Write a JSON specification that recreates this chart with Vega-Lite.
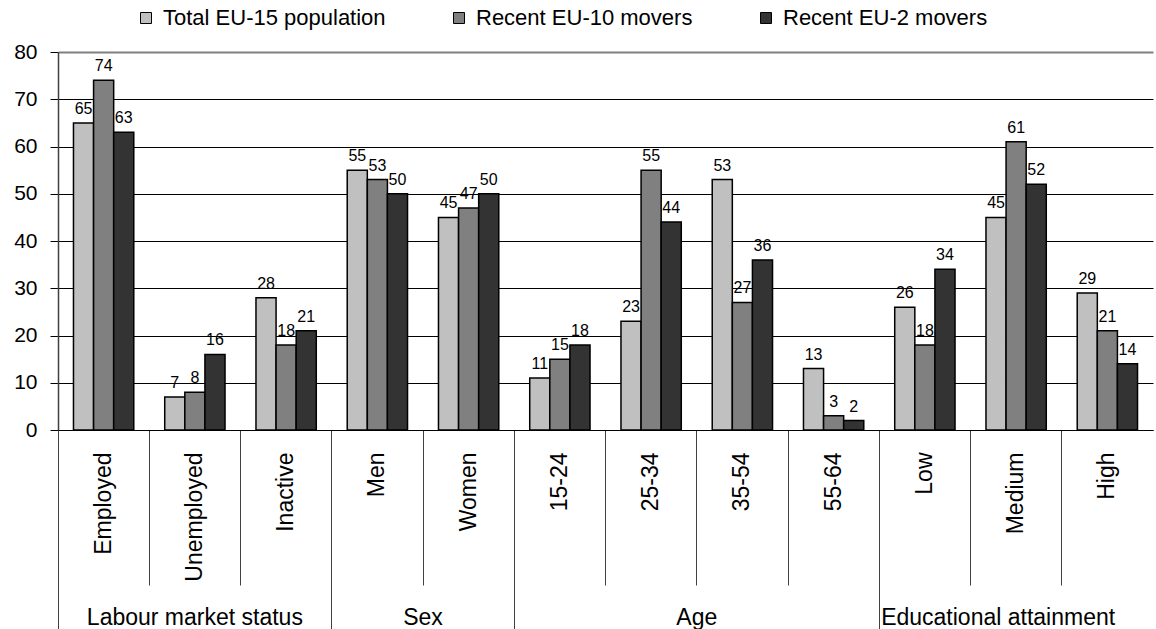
{
  "$schema": "https://vega.github.io/schema/vega-lite/v6.json",
  "autosize": "none",
  "width": 1095,
  "height": 378,
  "padding": {"left": 58, "top": 52, "right": 3, "bottom": 199},
  "background": "white",
  "config": {"font": "Liberation Sans", "view": {"stroke": null}},
  "data": {
    "values": [
      {"group": "Labour market status", "cat": "Employed", "series": "Total EU-15 population", "value": 65},
      {"group": "Labour market status", "cat": "Employed", "series": "Recent EU-10 movers", "value": 74},
      {"group": "Labour market status", "cat": "Employed", "series": "Recent EU-2 movers", "value": 63},
      {"group": "Labour market status", "cat": "Unemployed", "series": "Total EU-15 population", "value": 7},
      {"group": "Labour market status", "cat": "Unemployed", "series": "Recent EU-10 movers", "value": 8},
      {"group": "Labour market status", "cat": "Unemployed", "series": "Recent EU-2 movers", "value": 16},
      {"group": "Labour market status", "cat": "Inactive", "series": "Total EU-15 population", "value": 28},
      {"group": "Labour market status", "cat": "Inactive", "series": "Recent EU-10 movers", "value": 18},
      {"group": "Labour market status", "cat": "Inactive", "series": "Recent EU-2 movers", "value": 21},
      {"group": "Sex", "cat": "Men", "series": "Total EU-15 population", "value": 55},
      {"group": "Sex", "cat": "Men", "series": "Recent EU-10 movers", "value": 53},
      {"group": "Sex", "cat": "Men", "series": "Recent EU-2 movers", "value": 50},
      {"group": "Sex", "cat": "Women", "series": "Total EU-15 population", "value": 45},
      {"group": "Sex", "cat": "Women", "series": "Recent EU-10 movers", "value": 47},
      {"group": "Sex", "cat": "Women", "series": "Recent EU-2 movers", "value": 50},
      {"group": "Age", "cat": "15-24", "series": "Total EU-15 population", "value": 11},
      {"group": "Age", "cat": "15-24", "series": "Recent EU-10 movers", "value": 15},
      {"group": "Age", "cat": "15-24", "series": "Recent EU-2 movers", "value": 18},
      {"group": "Age", "cat": "25-34", "series": "Total EU-15 population", "value": 23},
      {"group": "Age", "cat": "25-34", "series": "Recent EU-10 movers", "value": 55},
      {"group": "Age", "cat": "25-34", "series": "Recent EU-2 movers", "value": 44},
      {"group": "Age", "cat": "35-54", "series": "Total EU-15 population", "value": 53},
      {"group": "Age", "cat": "35-54", "series": "Recent EU-10 movers", "value": 27},
      {"group": "Age", "cat": "35-54", "series": "Recent EU-2 movers", "value": 36},
      {"group": "Age", "cat": "55-64", "series": "Total EU-15 population", "value": 13},
      {"group": "Age", "cat": "55-64", "series": "Recent EU-10 movers", "value": 3},
      {"group": "Age", "cat": "55-64", "series": "Recent EU-2 movers", "value": 2},
      {"group": "Educational attainment", "cat": "Low", "series": "Total EU-15 population", "value": 26},
      {"group": "Educational attainment", "cat": "Low", "series": "Recent EU-10 movers", "value": 18},
      {"group": "Educational attainment", "cat": "Low", "series": "Recent EU-2 movers", "value": 34},
      {"group": "Educational attainment", "cat": "Medium", "series": "Total EU-15 population", "value": 45},
      {"group": "Educational attainment", "cat": "Medium", "series": "Recent EU-10 movers", "value": 61},
      {"group": "Educational attainment", "cat": "Medium", "series": "Recent EU-2 movers", "value": 52},
      {"group": "Educational attainment", "cat": "High", "series": "Total EU-15 population", "value": 29},
      {"group": "Educational attainment", "cat": "High", "series": "Recent EU-10 movers", "value": 21},
      {"group": "Educational attainment", "cat": "High", "series": "Recent EU-2 movers", "value": 14}
    ]
  },
  "resolve": {"axis": {"x": "independent", "y": "independent"}},
  "layer": [
    {
      "mark": {"type": "bar", "stroke": "black", "strokeWidth": 1.5},
      "encoding": {
        "x": {
          "field": "cat", "type": "nominal",
          "sort": ["Employed", "Unemployed", "Inactive", "Men", "Women", "15-24", "25-34", "35-54", "55-64", "Low", "Medium", "High"],
          "scale": {"paddingInner": 0, "paddingOuter": 0},
          "axis": {
            "orient": "bottom", "title": null, "labelAngle": -90, "labelFontSize": 23, "labelColor": "black",
            "labelPadding": 22, "ticks": false, "domain": true, "domainColor": "black", "domainWidth": 1,
            "labelOverlap": false, "labelBound": false, "labelLimit": 0, "grid": false, "zindex": 1
          }
        },
        "xOffset": {
          "field": "series", "type": "nominal",
          "sort": ["Total EU-15 population", "Recent EU-10 movers", "Recent EU-2 movers"],
          "scale": {"paddingInner": 0, "paddingOuter": 0.77}
        },
        "y": {
          "field": "value", "type": "quantitative",
          "scale": {"domain": [0, 80], "nice": false},
          "axis": {
            "title": null, "values": [0, 10, 20, 30, 40, 50, 60, 70, 80], "grid": true,
            "gridColor": {"condition": {"test": "datum.value === 80", "value": "#808080"}, "value": "black"},
            "gridWidth": {"condition": {"test": "datum.value === 80", "value": 2}, "value": 1},
            "domainColor": "#404040", "domainWidth": 1.5, "tickColor": "black", "tickSize": 8,
            "labelFontSize": 21, "labelPadding": 13, "labelColor": "black"
          }
        },
        "color": {
          "field": "series", "type": "nominal",
          "sort": ["Total EU-15 population", "Recent EU-10 movers", "Recent EU-2 movers"],
          "scale": {"domain": ["Total EU-15 population", "Recent EU-10 movers", "Recent EU-2 movers"], "range": ["#c0c0c0", "#808080", "#333333"]},
          "legend": {
            "orient": "none", "legendX": 77, "legendY": -45, "direction": "horizontal", "title": null,
            "labelFontSize": 22, "labelColor": "black", "labelLimit": 0, "symbolType": "square", "symbolSize": 121,
            "symbolStrokeColor": "black", "symbolStrokeWidth": 1, "columnPadding": 62, "labelOffset": 6
          }
        }
      }
    },
    {
      "mark": {"type": "text", "baseline": "bottom", "dy": -6, "fontSize": 16, "color": "black"},
      "encoding": {
        "x": {"field": "cat", "type": "nominal", "sort": ["Employed", "Unemployed", "Inactive", "Men", "Women", "15-24", "25-34", "35-54", "55-64", "Low", "Medium", "High"], "axis": null},
        "xOffset": {"field": "series", "type": "nominal", "sort": ["Total EU-15 population", "Recent EU-10 movers", "Recent EU-2 movers"]},
        "y": {"field": "value", "type": "quantitative", "axis": null},
        "text": {"field": "value", "type": "quantitative"}
      }
    },
    {
      "mark": {"type": "bar", "opacity": 0},
      "encoding": {
        "x": {
          "field": "cat", "type": "nominal",
          "sort": ["Employed", "Unemployed", "Inactive", "Men", "Women", "15-24", "25-34", "35-54", "55-64", "Low", "Medium", "High"],
          "axis": {
            "orient": "bottom", "title": null, "bandPosition": 0, "values": ["Employed", "Men", "15-24", "Low"],
            "labels": false, "domain": false, "ticks": true, "tickSize": 199, "tickColor": "#404040", "tickWidth": 1, "grid": false
          }
        }
      }
    },
    {
      "mark": {"type": "bar", "opacity": 0},
      "encoding": {
        "x": {
          "field": "cat", "type": "nominal",
          "sort": ["Employed", "Unemployed", "Inactive", "Men", "Women", "15-24", "25-34", "35-54", "55-64", "Low", "Medium", "High"],
          "axis": {
            "orient": "bottom", "title": null, "bandPosition": 0, "values": ["Unemployed", "Inactive", "Women", "25-34", "35-54", "55-64", "Medium", "High"],
            "labels": false, "domain": false, "ticks": true, "tickSize": 155, "tickColor": "#404040", "tickWidth": 1, "grid": false
          }
        }
      }
    },
    {
      "mark": {"type": "bar", "opacity": 0},
      "encoding": {
        "x": {
          "field": "cat", "type": "nominal",
          "sort": ["Employed", "Unemployed", "Inactive", "Men", "Women", "15-24", "25-34", "35-54", "55-64", "Low", "Medium", "High"],
          "axis": {
            "orient": "bottom", "title": null, "values": ["Unemployed", "Women", "35-54", "Medium"],
            "labelExpr": "datum.value == 'Unemployed' ? 'Labour market status' : datum.value == 'Women' ? 'Sex' : datum.value == '35-54' ? 'Age' : 'Educational attainment'",
            "ticks": false, "domain": false, "grid": false, "labelAngle": 0, "labelAlign": "center", "labelBaseline": "alphabetic",
            "labelPadding": 194, "labelFontSize": 23, "labelColor": "black", "labelOverlap": false, "labelBound": false, "labelLimit": 0,
            "labelOffset": {"condition": [{"test": "datum.value == 'Women' || datum.value == '35-54'", "value": -45.6}, {"test": "datum.value == 'Medium'", "value": -18}], "value": 0}
          }
        }
      }
    }
  ]
}
